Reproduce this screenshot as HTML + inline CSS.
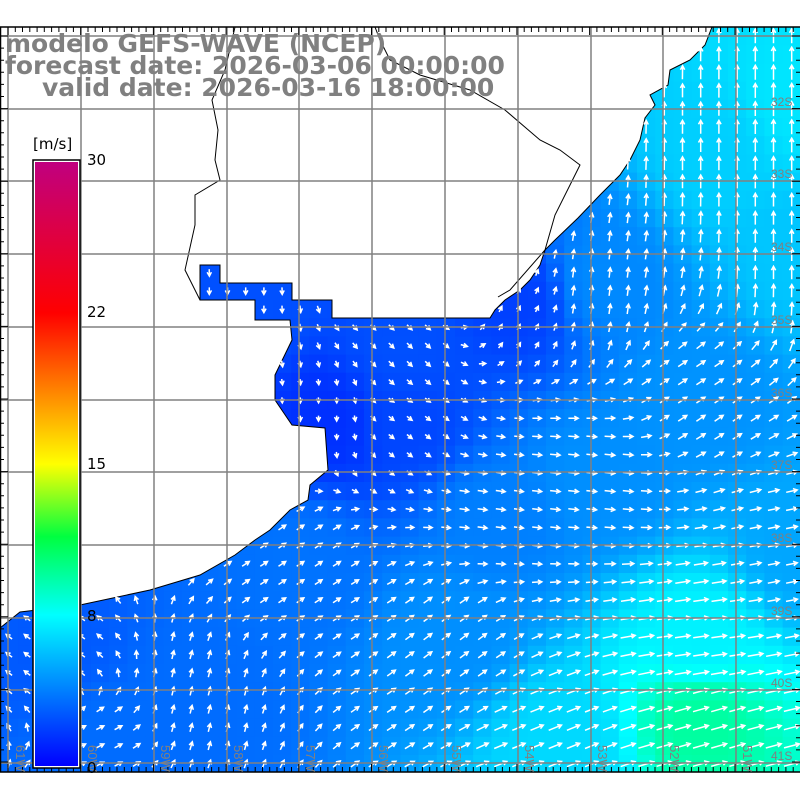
<!DOCTYPE html>
<html><head><meta charset="utf-8"><style>
html,body{margin:0;padding:0;background:#fff;width:800px;height:800px;overflow:hidden}
svg{display:block}
</style></head><body>
<svg id="s" width="800" height="800" xmlns="http://www.w3.org/2000/svg">
<defs>
<linearGradient id="cb" x1="0" y1="1" x2="0" y2="0">
<stop offset="0" stop-color="#0000ff"/>
<stop offset="0.25" stop-color="#00ffff"/>
<stop offset="0.38" stop-color="#00ff40"/>
<stop offset="0.5" stop-color="#ffff00"/>
<stop offset="0.75" stop-color="#ff0000"/>
<stop offset="1" stop-color="#c0007f"/>
</linearGradient>
<clipPath id="mc"><rect x="0" y="27" width="800" height="745"/></clipPath>
</defs>
<g id="map" clip-path="url(#mc)"></g>
</svg>
<script>
const NS="http://www.w3.org/2000/svg";
const svg=document.getElementById('s'),map=document.getElementById('map');
function el(t,a,p){const e=document.createElementNS(NS,t);for(const k in a)e.setAttribute(k,a[k]);(p||svg).appendChild(e);return e;}
const land=[[0,27],[712,27],[705,45],[690,60],[670,70],[668,85],[650,95],[655,105],[645,118],[640,140],[630,160],[620,175],[600,195],[578,218],[555,240],[545,250],[540,265],[530,280],[520,290],[505,300],[495,310],[490,318],[332,318],[332,300],[292,300],[292,283],[220,283],[220,265],[200,265],[200,300],[255,300],[255,320],[290,320],[292,340],[275,375],[275,400],[292,425],[325,428],[328,470],[310,485],[308,500],[290,510],[270,530],[255,540],[235,555],[200,575],[150,590],[80,605],[20,612],[0,628]];
function inLand(x,y){let c=false;for(let i=0,j=land.length-1;i<land.length;j=i++){const[xi,yi]=land[i],[xj,yj]=land[j];if((yi>y)!=(yj>y)&&x<(xj-xi)*(y-yi)/(yj-yi)+xi)c=!c;}return c;}
const pts=[[720,150,0,6,6.5],[790,100,0,6,7.2],[600,280,0.5,4,4.3],[700,400,3,2,4.6],[600,480,5,-0.5,4.5],[400,420,2,-1.5,2.2],[330,420,0,-2,1.5],[400,350,1,-1,2.5],[520,300,0.5,1,2],[300,560,3,2,3.6],[450,640,4,3,4.5],[700,640,7,1,7.6],[700,720,7,2,9.5],[200,700,0.5,2,3.4],[50,650,-2,1.5,2.8],[100,740,1,0.5,3.4],[250,300,0,-1,2.5],[500,520,4,-0.5,4],[800,550,5,1,5.2],[560,740,5,2,6.8],[800,250,0,5,6.2]];
function field(x,y){let W=0,u=0,v=0,s=0;for(const p of pts){const d=(x-p[0])**2+(y-p[1])**2+400;const w=1/(d*d);W+=w;u+=w*p[2];v+=w*p[3];s+=w*p[4];}return[u/W,v/W,s/W];}
function col(s){const st=[[0,[0,0,255]],[8,[0,255,255]],[11,[0,255,64]],[15,[255,255,0]],[22,[255,0,0]],[30,[192,0,127]]];for(let i=1;i<st.length;i++){if(s<=st[i][0]){const t=(s-st[i-1][0])/(st[i][0]-st[i-1][0]);const a=st[i-1][1],b=st[i][1];return`rgb(${a.map((c,k)=>Math.round(c+(b[k]-c)*t)).join(',')})`;}}return'rgb(192,0,127)';}
const cs=18.2;
for(let y=27;y<772;y+=cs)for(let x=0;x<800;x+=cs){const f=field(x+cs/2,y+cs/2);el('rect',{x:x,y:y,width:cs+0.6,height:cs+0.6,fill:col(f[2])},map);}
el('polygon',{points:land.map(p=>p.join(',')).join(' '),fill:'#fff',stroke:'#000','stroke-width':1},map);
el('polyline',{points:'235,27 232,40 225,70 212,100 218,130 215,160 220,180 195,195 195,225 185,270 200,300',fill:'none',stroke:'#000','stroke-width':1},map);
el('polyline',{points:'498,297 510,290 545,250 555,215 580,165 560,150 540,140 505,110 470,90 420,75 390,60 380,40 375,27',fill:'none',stroke:'#000','stroke-width':1},map);
let ad='';
for(let y=27+cs/2;y<772;y+=cs)for(let x=cs/2;x<800;x+=cs){if(inLand(x,y))continue;const f=field(x,y);const m=Math.hypot(f[0],f[1])||1;const L=Math.min(16,3+f[2]*1.6);const dx=f[0]/m,dy=-f[1]/m;const x0=x-dx*L/2,y0=y-dy*L/2,x1=x+dx*L/2,y1=y+dy*L/2;const h=4.5;const a=Math.atan2(dy,dx);ad+=`M${x0.toFixed(1)} ${y0.toFixed(1)}L${x1.toFixed(1)} ${y1.toFixed(1)}M${(x1-h*Math.cos(a-0.5)).toFixed(1)} ${(y1-h*Math.sin(a-0.5)).toFixed(1)}L${x1.toFixed(1)} ${y1.toFixed(1)}L${(x1-h*Math.cos(a+0.5)).toFixed(1)} ${(y1-h*Math.sin(a+0.5)).toFixed(1)}`;}
el('path',{d:ad,stroke:'#fff','stroke-width':1.5,fill:'none'},map);
const g=[8,81,154,227,299,372,445,518,591,663,736];
for(const x of g)el('line',{x1:x,y1:27,x2:x,y2:772,stroke:'#808080','stroke-width':1.5});
const gy=[36,109,181,254,327,400,472,545,618,690,763];
for(const y of gy)el('line',{x1:0,y1:y,x2:800,y2:y,stroke:'#808080','stroke-width':1.5});
el('line',{x1:0,y1:27,x2:800,y2:27,stroke:'#000','stroke-width':1.5});
el('line',{x1:0,y1:772,x2:800,y2:772,stroke:'#000','stroke-width':1.5});
el('line',{x1:0.5,y1:27,x2:0.5,y2:772,stroke:'#000','stroke-width':1.5});
let td='';
for(let x=8;x<800;x+=7.27){const big=Math.abs(((x-8)/72.7)-Math.round((x-8)/72.7))<0.05;const l=big?8:5;td+=`M${x.toFixed(1)} 27v${l}M${x.toFixed(1)} 772v${-l}`;}
for(let y=36;y<772;y+=12.1){const big=Math.abs(((y-36)/72.7)-Math.round((y-36)/72.7))<0.1;const l=big?8:4;td+=`M0 ${y.toFixed(1)}h${l}M800 ${y.toFixed(1)}h${-l}`;}
el('path',{d:td,stroke:'#000','stroke-width':1,fill:'none'});
const lab=[['61W',20],['60W',92],['59W',165],['58W',238],['57W',310],['56W',383],['55W',456],['54W',529],['53W',602],['52W',674],['51W',747]];
for(const [t,x] of lab){const e=el('text',{x:0,y:0,fill:'#808080','font-family':'Liberation Sans, sans-serif','font-size':13,transform:`translate(${x-4},745) rotate(90)`});e.textContent=t;}
const ry=[['32S',106],['33S',178],['34S',251],['35S',324],['36S',397],['37S',469],['38S',542],['39S',615],['40S',687],['41S',760]];
for(const [t,y] of ry){const e=el('text',{x:771,y:y,fill:'#808080','font-family':'Liberation Sans, sans-serif','font-size':12});e.textContent=t;}
el('rect',{x:33,y:160,width:47,height:608,fill:'#fff',stroke:'#000','stroke-width':1.5});
el('rect',{x:35,y:162,width:43,height:604,fill:'url(#cb)'});
const cl=[['30',165],['22',317],['15',469],['8',621],['0',773]];
for(const [t,y] of cl){const e=el('text',{x:87,y:y,fill:'#000','font-family':'DejaVu Sans, sans-serif','font-size':15});e.textContent=t;}
const u=el('text',{x:33,y:149,fill:'#000','font-family':'DejaVu Sans, sans-serif','font-size':15});u.textContent='[m/s]';
const tt=[['modelo GEFS-WAVE (NCEP)',5,52],['forecast date: 2026-03-06 00:00:00',5,74],['valid date: 2026-03-16 18:00:00',42,96]];
for(const [t,x,y] of tt){const e=el('text',{x:x,y:y,fill:'#808080','font-family':'DejaVu Sans, sans-serif','font-weight':'bold','font-size':25});e.textContent=t;}
</script>
</body></html>
